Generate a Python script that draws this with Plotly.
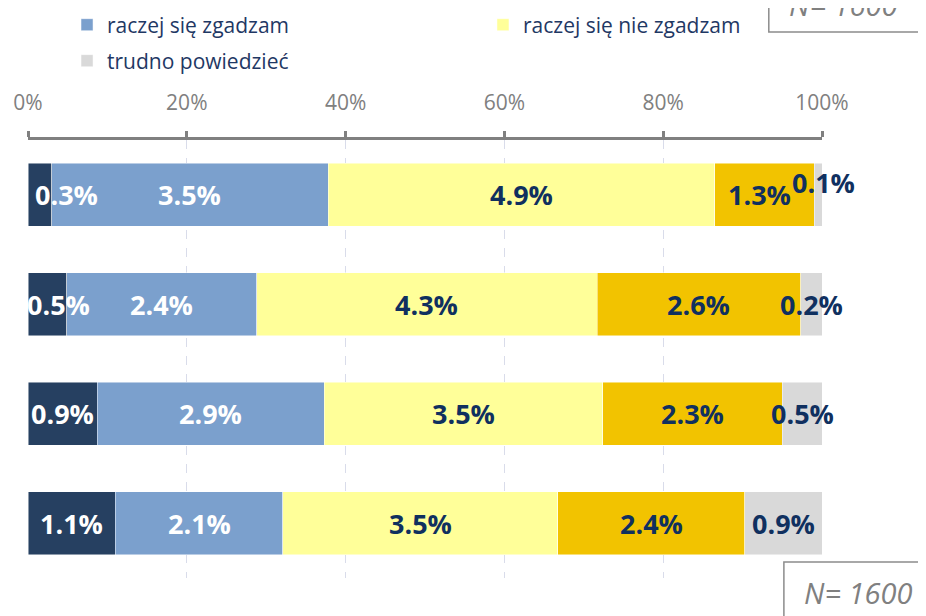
import plotly.graph_objects as go
import numpy as np

categories = ["Q1", "Q2", "Q3", "Q4"]
series_names = ["zdecydowanie się zgadzam", "raczej się zgadzam", "raczej się nie zgadzam",
                "zdecydowanie się nie zgadzam", "trudno powiedzieć"]
zdecydowanie_zgadzam = [3.0, 4.9, 8.7, 11.0]
raczej_zgadzam = [34.8, 23.9, 28.6, 21.1]
raczej_nie_zgadzam = [48.7, 42.9, 35.1, 34.6]
zdecydowanie_nie_zgadzam = [12.5, 25.6, 22.6, 23.6]
trudno_powiedziec = [1.0, 2.7, 5.0, 9.7]

labels_zz = ["0.3%", "0.5%", "0.9%", "1.1%"]
labels_rz = ["3.5%", "2.4%", "2.9%", "2.1%"]
labels_rn = ["4.9%", "4.3%", "3.5%", "3.5%"]
labels_zn = ["1.3%", "2.6%", "2.3%", "2.4%"]
labels_tp = ["0.1%", "0.2%", "0.5%", "0.9%"]

tick_vals = [0, 20, 40, 60, 80, 100]
tick_text = ["0%", "20%", "40%", "60%", "80%", "100%"]

series = [zdecydowanie_zgadzam, raczej_zgadzam, raczej_nie_zgadzam,
          zdecydowanie_nie_zgadzam, trudno_powiedziec]
labels = [labels_zz, labels_rz, labels_rn, labels_zn, labels_tp]
colors = ["#264061", "#7BA0CD", "#FFFF99", "#F2C300", "#D9D9D9"]
label_colors = ["white", "white", "#10305F", "#10305F", "#10305F"]
legend_ref = [None, "legend", "legend2", None, "legend3"]

fig = go.Figure()
for i, (name, vals) in enumerate(zip(series_names, series)):
    fig.add_trace(go.Bar(
        y=categories, x=vals, name=name, orientation="h",
        marker=dict(color=colors[i], line=dict(color="rgba(255,255,255,0.6)", width=0.8)),
        showlegend=legend_ref[i] is not None,
        legend=legend_ref[i] if legend_ref[i] else "legend",
        hoverinfo="skip",
    ))

# per-label manual offsets (px) as in the original
xshifts = {(0, 0): 27, (0, 1): 11, (4, 0): 5, (3, 0): -5}
yshifts = {(4, 0): 12}

cum = np.zeros(len(categories))
for i, vals in enumerate(series):
    vals = np.array(vals)
    for j, cat in enumerate(categories):
        fig.add_annotation(
            x=cum[j] + vals[j] / 2, y=cat, xref="x", yref="y",
            text=labels[i][j], showarrow=False,
            font=dict(family="Open Sans", size=27, color=label_colors[i], weight="bold"),
            xshift=xshifts.get((i, j), 0), yshift=yshifts.get((i, j), 0),
        )
    cum += vals

# N boxes
box_line = dict(color="#8C8C8C", width=1.5)
fig.add_shape(type="rect", xref="paper", yref="paper", x0=0.952, x1=1.2, y0=-0.2, y1=0.0365,
              line=box_line, fillcolor="rgba(0,0,0,0)")
fig.add_shape(type="rect", xref="paper", yref="paper", x0=0.933, x1=1.2, y0=1.2466, y1=1.45,
              line=box_line, fillcolor="rgba(0,0,0,0)")
for xx, yy in [(1.045, -0.034), (1.027, 1.3105)]:
    fig.add_annotation(x=xx, y=yy, xref="paper", yref="paper", text="N= 1600", showarrow=False,
                       xanchor="center", yanchor="middle",
                       font=dict(family="Open Sans", size=29, color="#808080", style="italic"))

legend_font = dict(family="Open Sans", size=21, color="#1F3864")
fig.update_layout(
    barmode="stack",
    bargap=0.425,
    width=918, height=608,
    margin=dict(l=20, r=104, t=132, b=38, autoexpand=False),
    paper_bgcolor="white", plot_bgcolor="white",
    font=dict(family="Open Sans"),
    legend=dict(orientation="h", xref="container", yref="container", x=0.0643, y=0.972,
                xanchor="left", yanchor="middle", font=legend_font),
    legend2=dict(orientation="h", xref="container", yref="container", x=0.5174, y=0.972,
                 xanchor="left", yanchor="middle", font=legend_font),
    legend3=dict(orientation="h", xref="container", yref="container", x=0.0643, y=0.9128,
                 xanchor="left", yanchor="middle", font=legend_font),
    xaxis=dict(side="top", range=[0, 100], tickvals=tick_vals, ticktext=tick_text,
               tickfont=dict(family="Open Sans", size=21, color="#808080"),
               showline=True, linecolor="#808080", linewidth=3,
               ticks="outside", ticklen=6, tickwidth=3, tickcolor="#808080",
               ticklabelstandoff=13, automargin=False,
               showgrid=True, gridcolor="#D9DCEA", gridwidth=1, griddash="dash",
               zeroline=False, fixedrange=True),
    yaxis=dict(categoryorder="array", categoryarray=categories, autorange="reversed",
               showticklabels=False, showgrid=False, zeroline=False, showline=False, ticks="",
               automargin=False),
)

fig.write_html("out.html")
